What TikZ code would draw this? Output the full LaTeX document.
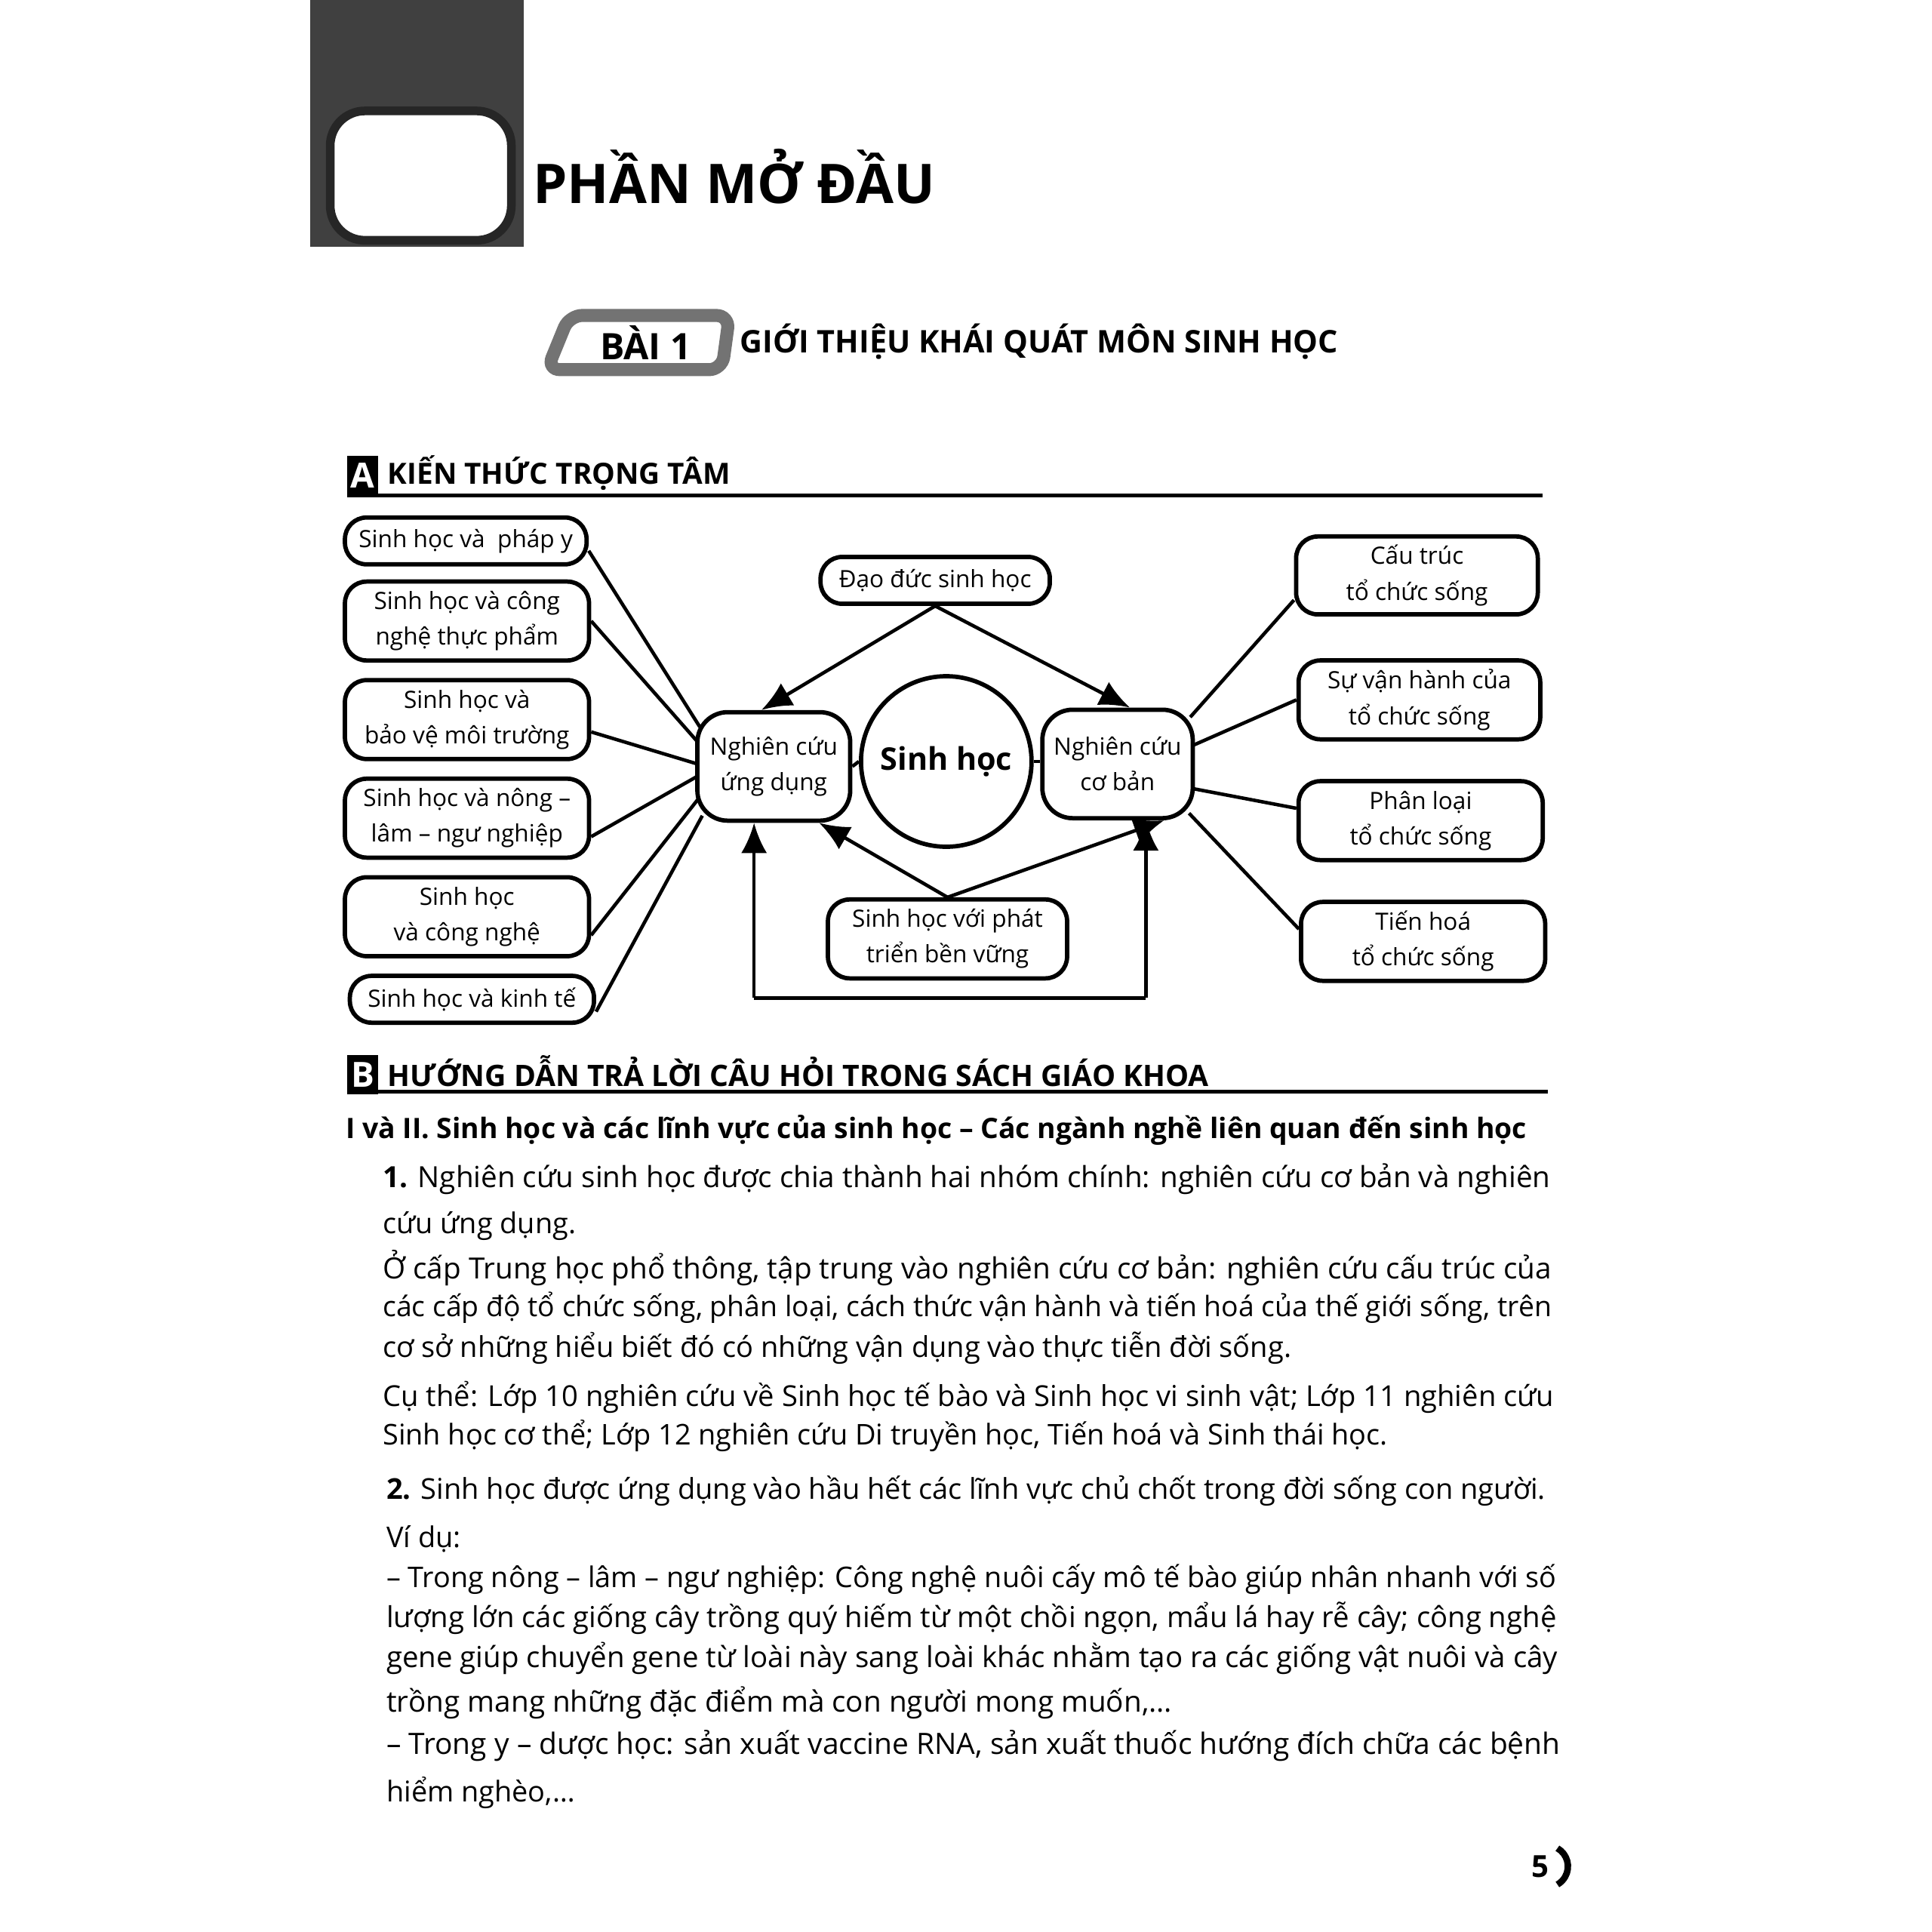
\documentclass[tikz,border=0pt]{standalone}
\usepackage{fontspec}
\setmainfont{Open Sans}
\usetikzlibrary{arrows.meta}
\newcommand\fw[2]{\resizebox{#1cm}{!}{#2}}
\tikzset{
 bx/.style={draw,line width=1pt,rounded corners=5pt,align=center,font=\fontsize{5.5}{8.2}\selectfont,inner sep=2pt},
 ln/.style={line width=0.8pt},
 ar/.style={line width=0.8pt,-{Latex[length=7pt,width=6pt]}},
 body/.style={anchor=west,inner sep=0pt,font=\fontsize{6.6}{8}\selectfont},
}
\begin{document}
\begin{tikzpicture}[x=0.01cm,y=-0.01cm]
\useasboundingbox (0,0) rectangle (1568,1568);
% header band
\fill[black!75] (252,0) rectangle (425,200);
\draw[black!85,line width=2pt,fill=white,rounded corners=8pt] (268,90) rectangle (415,195);
\node[anchor=west,inner sep=0pt] (title) at (432,143) {\fw{3.26}{\bfseries PHẦN MỞ ĐẦU}};
% Bai 1
\draw[black!55,line width=3pt,rounded corners=3pt,fill=white] (462,256) -- (592,256) -- (586,300) -- (444,300) -- cycle;
\node (bai) at (524,278) {\fw{0.74}{\bfseries BÀI 1}};
\node[anchor=west,inner sep=0pt] (bait) at (600,277) {\fw{4.85}{\bfseries GIỚI THIỆU KHÁI QUÁT MÔN SINH HỌC}};
% section A
\fill (282,370) rectangle (307,402);
\node[text=white] (A) at (294.5,386) {\bfseries\fontsize{8}{9}\selectfont A};
\node[anchor=west,inner sep=0pt] (Atxt) at (314,384) {\fw{2.78}{\bfseries KIẾN THỨC TRỌNG TÂM}};
\draw[line width=0.8pt] (282,402) -- (1252,402);
% diagram left
\node[bx,minimum width=1.96cm,minimum height=0.38cm] (p1) at (378,439) {Sinh học và\ \ pháp y};
\node[bx,minimum width=1.98cm,minimum height=0.64cm] (p2) at (379,504) {Sinh học và công\\ nghệ thực phẩm};
\node[bx,minimum width=1.98cm,minimum height=0.64cm] (p3) at (379,584) {Sinh học và\\ bảo vệ môi trường};
\node[bx,minimum width=1.98cm,minimum height=0.64cm] (p4) at (379,664) {Sinh học và nông –\\ lâm – ngư nghiệp};
\node[bx,minimum width=1.98cm,minimum height=0.64cm] (p5) at (379,744) {Sinh học\\ và công nghệ};
\node[bx,minimum width=1.98cm,minimum height=0.38cm] (p6) at (383,811) {Sinh học và kinh tế};
% center
\node[bx,minimum width=1.86cm,minimum height=0.38cm] (dd) at (759,471) {Đạo đức sinh học};
\node[bx,minimum width=1.24cm,minimum height=0.88cm,rounded corners=7pt] (ud) at (628,622) {Nghiên cứu\\ ứng dụng};
\node[draw,circle,line width=1pt,minimum size=1.3cm,font=\bfseries\fontsize{7.2}{9}\selectfont] (sh) at (768,618) {Sinh học};
\node[bx,minimum width=1.22cm,minimum height=0.88cm,rounded corners=7pt] (cb) at (907,620) {Nghiên cứu\\ cơ bản};
\node[bx,minimum width=1.94cm,minimum height=0.64cm] (bv) at (769,762) {Sinh học với phát\\ triển bền vững};
% right
\node[bx,minimum width=1.96cm,minimum height=0.62cm] (q1) at (1150,467) {Cấu trúc\\ tổ chức sống};
\node[bx,minimum width=1.96cm,minimum height=0.64cm] (q2) at (1152,568) {Sự vận hành của\\ tổ chức sống};
\node[bx,minimum width=1.98cm,minimum height=0.64cm] (q3) at (1153,666) {Phân loại\\ tổ chức sống};
\node[bx,minimum width=1.98cm,minimum height=0.64cm] (q4) at (1155,764) {Tiến hoá\\ tổ chức sống};
% connectors
\coordinate (u1) at (568,590); \coordinate (u2) at (567,603);
\coordinate (u3) at (566,620); \coordinate (u4) at (566,630);
\coordinate (u5) at (567,648); \coordinate (u6) at (570,662);
\draw[ln] ([yshift=-0.08cm]p1.east) -- (u1);
\draw[ln] (p2.east) -- (u2);
\draw[ln] ([yshift=-0.1cm]p3.east) -- (u3);
\draw[ln] ([yshift=-0.15cm]p4.east) -- (u4);
\draw[ln] ([yshift=-0.15cm]p5.east) -- (u5);
\draw[ln] ([yshift=-0.1cm]p6.east) -- (u6);
\coordinate (c1) at (966,582); \coordinate (c2) at (968,605);
\coordinate (c3) at (968,640); \coordinate (c4) at (965,660);
\draw[ln] (c1) -- ([yshift=-0.2cm]q1.west);
\draw[ln] (c2) -- (q2.west);
\draw[ln] (c3) -- ([yshift=0.1cm]q3.west);
\draw[ln] (c4) -- ([yshift=0.1cm]q4.west);
\draw[ln] (ud.east) -- (sh.west);
\draw[ln] (sh.east) -- (sh.east -| cb.west);
\draw[ar] (dd.south) -- ([xshift=-0.1cm]ud.north);
\draw[ar] (dd.south) -- ([xshift=0.1cm]cb.north);
\draw[ar] (bv.north) -- ([xshift=-0.27cm]ud.south east);
\draw[ar] (bv.north) -- ([xshift=-0.25cm]cb.south east);
\coordinate (lb) at (612,810);
\coordinate (rb) at (930,810);
\draw[ar] (lb) -- (lb |- ud.south);
\draw[ar] (rb) -- (rb |- cb.south);
\draw[ln] (lb) -- (rb);
% section B
\fill (282,856) rectangle (307,888);
\node[text=white] (B) at (294.5,872) {\bfseries\fontsize{8}{9}\selectfont B};
\node[anchor=west,inner sep=0pt] (Btxt) at (314,869) {\fw{6.66}{\bfseries HƯỚNG DẪN TRẢ LỜI CÂU HỎI TRONG SÁCH GIÁO KHOA}};
\draw[line width=0.8pt] (282,886) -- (1256,886);
\node[body] (h1) at (280,917) {\fw{9.58}{\bfseries I và II. Sinh học và các lĩnh vực của sinh học – Các ngành nghề liên quan đến sinh học}};
\node[body] (l1) at (310,957) {\fw{9.47}{\textbf{1.} Nghiên cứu sinh học được chia thành hai nhóm chính: nghiên cứu cơ bản và nghiên}};
\node[body] (l2) at (310,995) {cứu ứng dụng.};
\node[body] (l3) at (310,1029) {\fw{9.48}{Ở cấp Trung học phổ thông, tập trung vào nghiên cứu cơ bản: nghiên cứu cấu trúc của}};
\node[body] (l4) at (310,1061) {\fw{9.48}{các cấp độ tổ chức sống, phân loại, cách thức vận hành và tiến hoá của thế giới sống, trên}};
\node[body] (l5) at (310,1094) {\fw{7.37}{cơ sở những hiểu biết đó có những vận dụng vào thực tiễn đời sống.}};
\node[body] (l6) at (310,1134) {\fw{9.5}{Cụ thể: Lớp 10 nghiên cứu về Sinh học tế bào và Sinh học vi sinh vật; Lớp 11 nghiên cứu}};
\node[body] (l7) at (310,1165) {\fw{8.15}{Sinh học cơ thể; Lớp 12 nghiên cứu Di truyền học, Tiến hoá và Sinh thái học.}};
\node[body] (l8) at (313,1210) {\fw{9.4}{\textbf{2.} Sinh học được ứng dụng vào hầu hết các lĩnh vực chủ chốt trong đời sống con người.}};
\node[body] (l9) at (313,1249) {Ví dụ:};
\node[body] (l10) at (313,1282) {\fw{9.49}{– Trong nông – lâm – ngư nghiệp: Công nghệ nuôi cấy mô tế bào giúp nhân nhanh với số}};
\node[body] (l11) at (313,1313) {\fw{9.49}{lượng lớn các giống cây trồng quý hiếm từ một chồi ngọn, mẩu lá hay rễ cây; công nghệ}};
\node[body] (l12) at (313,1346) {\fw{9.5}{gene giúp chuyển gene từ loài này sang loài khác nhằm tạo ra các giống vật nuôi và cây}};
\node[body] (l13) at (313,1382) {\fw{6.37}{trồng mang những đặc điểm mà con người mong muốn,…}};
\node[body] (l14) at (313,1417) {\fw{9.52}{– Trong y – dược học: sản xuất vaccine RNA, sản xuất thuốc hướng đích chữa các bệnh}};
\node[body] (l15) at (313,1455) {hiểm nghèo,…};
\node[anchor=east,inner sep=0pt,font=\bfseries\fontsize{7}{8}\selectfont] (pg) at (1258,1515) {5};
\draw[line width=1.5pt] (1264,1500) arc[start angle=60,end angle=-60,radius=0.17cm];
\end{tikzpicture}
\end{document}
